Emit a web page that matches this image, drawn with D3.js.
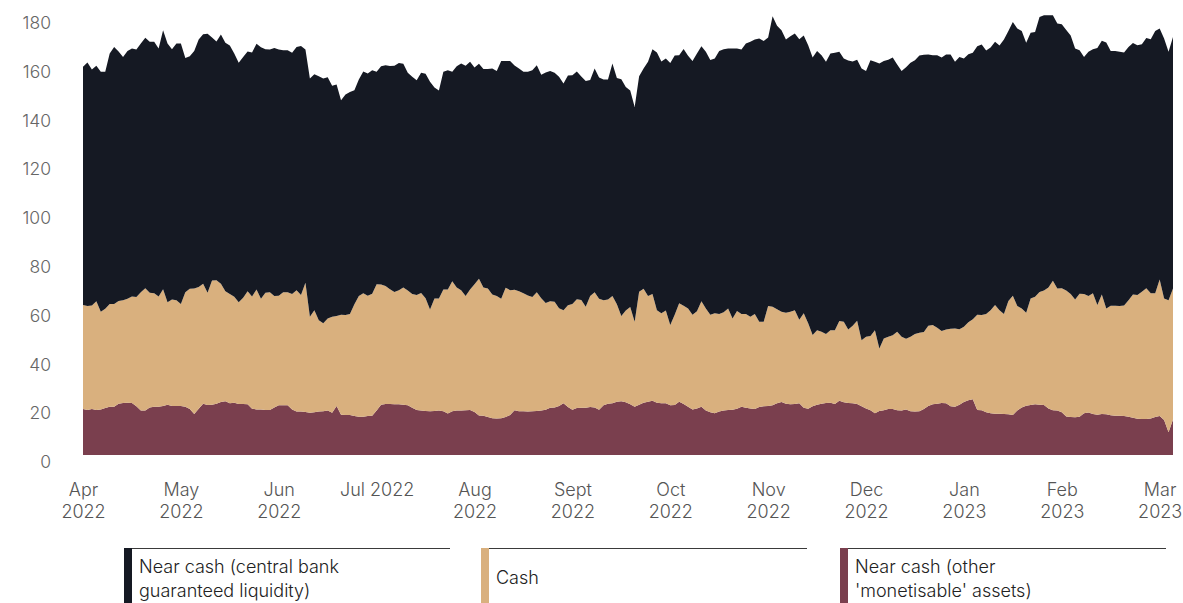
<!DOCTYPE html>
<html>
<head>
<meta charset="utf-8">
<script src="https://cdn.jsdelivr.net/npm/d3@7"></script>
<style>
  body { margin: 0; background: #fff; }
  svg { display: block; font-family: Inter, Roboto, sans-serif; font-weight: 300; }
</style>
</head>
<body>
<div id="chart"></div>
<script>
// business-day observations, Apr 2022 - Mar 2023 (£bn)
const other = [18.9,18.4,18.9,18.4,18.7,19.3,19.8,19.8,21.0,21.3,21.4,21.3,20.0,18.2,18.2,19.5,19.8,19.8,20.1,20.6,
  20.1,20.1,20.1,19.8,18.9,16.8,19.0,21.0,20.5,20.6,21.0,21.7,22.0,21.2,21.4,20.9,20.9,20.8,19.0,18.7,
  18.7,18.4,18.4,19.5,20.4,20.4,20.4,18.7,17.8,17.8,17.6,17.3,17.5,17.8,17.9,18.2,17.3,20.1,16.5,16.4,
  16.4,16.0,15.7,15.7,16.0,16.1,18.2,20.6,20.9,20.9,20.8,20.8,20.6,20.4,19.4,18.4,18.2,18.0,17.9,18.0,
  18.2,17.9,17.0,17.9,18.2,18.2,18.3,18.4,17.6,16.2,16.1,15.6,15.1,15.0,15.1,15.6,16.4,18.3,17.9,17.9,
  17.8,17.9,18.0,18.2,18.6,19.4,19.5,20.1,21.2,19.7,18.6,19.3,19.4,19.4,19.7,19.5,18.6,20.4,21.0,21.2,
  21.8,22.0,21.6,20.8,19.8,20.6,21.4,21.8,22.2,21.4,21.2,21.2,20.4,20.5,21.8,20.9,19.8,18.7,19.1,19.8,
  18.2,17.5,17.1,17.8,18.2,18.4,18.6,19.0,19.8,19.4,19.1,18.9,19.7,20.0,20.1,20.4,21.2,21.7,21.0,20.8,
  20.9,21.2,19.4,19.0,20.0,20.6,21.0,21.3,21.4,20.9,22.2,21.6,21.3,21.2,20.9,20.0,19.1,18.3,17.1,18.0,
  18.3,18.9,18.9,18.3,18.2,18.7,17.9,17.8,17.9,18.9,20.1,20.8,21.0,21.3,21.2,20.0,19.8,20.6,21.7,22.5,
  22.9,18.4,18.3,17.5,17.1,16.9,16.9,16.8,16.7,16.4,18.2,19.5,20.2,20.5,20.8,20.6,20.5,19.1,18.3,18.2,
  17.5,15.8,15.6,15.5,15.7,17.1,17.4,16.8,16.5,16.8,16.7,16.3,16.1,16.1,16.0,15.7,15.3,14.9,14.8,14.8,
  15.0,15.6,16.0,14.3,9.3,14.6];

const cash = [42.6,42.7,42.4,44.6,40.0,40.7,42.1,42.1,42.1,42.1,42.7,43.7,44.8,48.5,50.2,47.0,46.5,45.2,47.9,42.0,
  43.7,43.4,41.8,46.9,49.3,51.5,49.9,49.2,46.0,51.0,50.7,48.5,45.1,44.8,43.5,41.7,43.6,46.3,46.0,49.2,
  45.4,48.1,48.3,45.7,44.9,46.3,46.3,47.3,49.8,47.8,53.0,39.4,41.9,37.5,36.1,37.8,39.4,36.9,41.0,41.0,
  41.4,45.8,49.5,50.6,49.3,50.0,51.8,49.3,48.4,47.1,46.0,46.8,48.1,47.0,46.6,47.2,48.2,46.3,41.8,46.2,
  46.0,50.0,50.9,53.3,50.5,49.4,46.9,49.5,52.4,56.1,52.6,52.7,50.7,50.2,49.0,53.0,51.2,49.5,49.2,48.4,
  47.6,46.9,48.7,46.1,43.7,43.6,43.3,40.1,38.2,41.7,43.3,44.6,44.2,41.4,45.5,47.2,45.5,43.1,42.8,44.0,
  40.0,35.0,37.6,39.9,34.8,46.3,46.8,43.4,43.8,38.0,36.9,38.0,32.9,37.0,40.4,40.3,40.3,38.8,39.8,43.2,
  41.9,40.0,41.0,40.0,40.3,41.7,37.4,40.0,38.0,38.4,37.6,38.9,34.9,34.6,41.0,40.4,38.6,37.0,37.3,37.9,
  38.5,34.3,38.7,35.0,29.2,30.6,29.5,28.3,29.8,30.3,32.7,33.0,30.2,31.8,34.1,27.1,29.4,30.5,34.1,25.7,
  29.5,29.6,30.2,32.2,30.3,29.0,30.6,31.8,32.2,31.5,32.9,32.5,31.2,29.5,30.3,31.8,32.1,31.0,30.9,31.9,
  32.8,39.1,39.1,40.3,42.3,44.6,42.5,41.0,46.4,48.9,42.9,40.6,38.1,43.7,44.1,46.2,46.9,49.6,53.1,50.1,
  50.9,51.7,50.4,48.3,50.4,48.9,47.8,49.5,45.0,49.0,43.4,44.9,45.1,45.0,45.3,47.7,50.5,50.7,52.1,53.6,
  51.3,50.7,56.0,49.9,54.2,53.7];

const nearCash = [97.7,99.8,96.8,96.6,98.4,97.1,102.7,105.4,102.3,99.8,101.6,101.7,101.5,102.0,102.7,102.9,103.1,101.7,106.2,106.1,
  102.6,105.2,106.8,96.1,95.3,97.4,101.5,102.3,106.2,99.6,97.8,102.2,101.9,101.9,99.7,98.2,98.7,98.3,100.0,100.7,
  103.1,99.9,99.6,101.7,101.0,99.3,99.3,98.9,99.7,102.1,95.7,97.7,96.7,100.0,100.4,98.9,94.7,94.9,88.0,90.4,
  91.0,87.8,88.8,90.9,91.1,91.7,87.1,89.5,90.5,91.5,92.8,93.1,91.7,89.3,89.1,88.1,90.3,92.0,93.3,86.5,
  85.3,89.2,89.9,85.9,90.7,92.9,94.4,93.3,88.9,88.1,89.6,90.0,92.7,92.3,97.5,93.0,94.0,91.9,91.4,90.8,
  91.7,93.0,93.1,91.6,94.5,94.4,93.9,94.9,92.9,94.2,93.8,93.3,91.6,92.5,88.6,91.8,90.7,90.5,90.2,95.3,
  92.8,97.1,91.7,88.8,88.1,88.4,90.3,96.0,100.4,105.6,103.2,103.4,107.4,106.3,101.7,105.3,103.6,104.1,105.7,104.6,
  105.2,104.5,104.5,107.9,107.9,106.6,110.7,107.7,108.5,110.9,112.7,112.6,116.2,115.1,110.1,119.1,116.2,115.5,112.1,113.0,
  113.4,115.0,113.9,114.0,113.8,114.5,113.4,111.6,113.4,113.7,110.4,108.0,110.3,108.3,107.1,111.4,109.0,113.1,110.0,116.8,
  113.7,113.6,113.9,109.6,109.0,111.3,112.3,112.3,113.7,113.7,111.2,110.6,111.7,112.2,112.7,112.4,109.3,111.6,110.0,109.9,
  109.2,110.1,110.9,108.1,107.7,107.9,108.5,112.6,110.7,112.2,113.8,113.7,110.7,108.9,108.5,112.8,112.9,111.6,108.9,108.6,
  108.2,106.8,106.0,102.9,99.9,97.2,100.1,100.1,105.4,104.1,109.0,104.4,104.4,104.2,103.7,103.9,103.1,102.4,101.5,102.6,
  104.2,107.5,102.9,106.6,101.8,103.1];

const tickIndex = [0, 22, 44, 66, 88, 110, 132, 154, 176, 198, 220, 242];
const tickLabels = [['Apr', '2022'], ['May', '2022'], ['Jun', '2022'], ['Jul 2022'], ['Aug', '2022'], ['Sept', '2022'],
  ['Oct', '2022'], ['Nov', '2022'], ['Dec', '2022'], ['Jan', '2023'], ['Feb', '2023'], ['Mar', '2023']];
const yTicks = [0, 20, 40, 60, 80, 100, 120, 140, 160, 180];

const keys = ['other', 'cash', 'nearCash'];
const names = {
  nearCash: ['Near cash (central bank', 'guaranteed liquidity)'],
  cash: ['Cash'],
  other: ['Near cash (other', "'monetisable' assets)"]
};
const colors = { nearCash: '#151923', cash: '#d9b07e', other: '#7a3f4e' };

const width = 1183;
const height = 603;

const rows = other.map((d, i) => ({ i: i, other: d, cash: cash[i], nearCash: nearCash[i] }));
const series = d3.stack().keys(keys)(rows);

const svg = d3.select('#chart')
  .append('svg')
  .attr('width', width)
  .attr('height', height);

const x = d3.scaleLinear()
  .domain([0, rows.length - 1])
  .range([83, 1173]);

const y = d3.scaleLinear()
  .domain([0, 180])
  .range([455, 16]);

const area = d3.area()
  .x(d => x(d.data.i))
  .y0(d => y(d[0]))
  .y1(d => y(d[1]));

svg.selectAll('path.layer')
  .data(series)
  .join('path')
  .attr('class', 'layer')
  .attr('fill', d => colors[d.key])
  .attr('d', area);

// y axis
const yAxis = svg.append('g')
  .attr('transform', 'translate(51,0)')
  .call(d3.axisLeft(y).tickValues(yTicks).tickSize(0).tickPadding(0));
yAxis.select('.domain').remove();
yAxis.selectAll('text')
  .attr('transform', 'translate(0,7)')
  .attr('fill', '#666')
  .style('font-size', '17.5px')
  .style('font-weight', 300)
  .style('font-family', 'Inter, Roboto, sans-serif');

// x axis
const xAxis = svg.append('g')
  .attr('transform', 'translate(0,455)')
  .call(d3.axisBottom(x).tickValues(tickIndex).tickSize(0).tickFormat(''));
xAxis.select('.domain').remove();
xAxis.selectAll('.tick text')
  .attr('y', 0)
  .attr('dy', null)
  .attr('fill', '#555')
  .style('font-size', '18px')
  .style('font-weight', 300)
  .style('font-family', 'Inter, Roboto, sans-serif')
  .each(function(d, k) {
    d3.select(this).selectAll('tspan')
      .data(tickLabels[k])
      .join('tspan')
      .attr('x', 0)
      .attr('y', (t, j) => 41 + j * 22)
      .text(t => t);
  });

// legend
const legendX = { nearCash: 124, cash: 481, other: 840 };
const legend = svg.append('g');
['nearCash', 'cash', 'other'].forEach(k => {
  const g = legend.append('g').attr('transform', `translate(${legendX[k]},548)`);
  g.append('line')
    .attr('x1', 0).attr('x2', 326)
    .attr('y1', 0.5).attr('y2', 0.5)
    .attr('stroke', '#3a3a3a')
    .attr('stroke-width', 1);
  g.append('rect')
    .attr('x', 0).attr('y', 0)
    .attr('width', 8).attr('height', 60)
    .attr('fill', colors[k]);
  const lines = names[k];
  g.append('text')
    .attr('fill', '#222')
    .style('font-size', '18px')
    .style('font-weight', 300)
    .selectAll('tspan')
    .data(lines)
    .join('tspan')
    .attr('x', 15)
    .attr('y', (t, j) => lines.length === 1 ? 36 : 25 + j * 24)
    .text(t => t);
});
</script>
</body>
</html>
